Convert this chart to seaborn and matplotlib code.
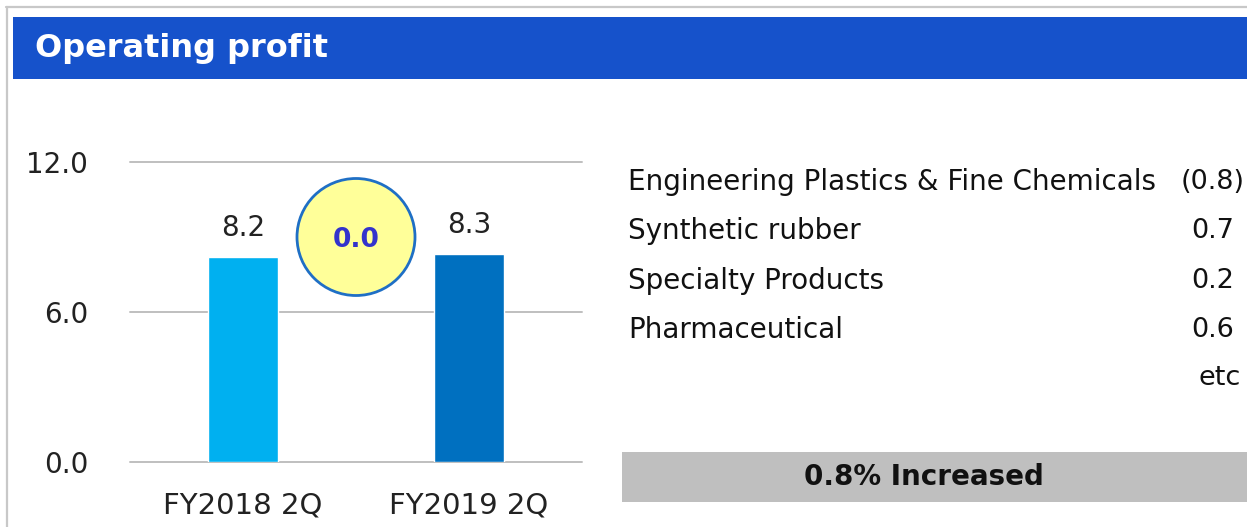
import matplotlib
matplotlib.use("Agg")
import matplotlib.pyplot as plt
from matplotlib.patches import Rectangle, Ellipse
from matplotlib.lines import Line2D
import seaborn as sns

# ---- data ----
title = "Operating profit"
categories = ["FY2018 2Q", "FY2019 2Q"]
values = [8.2, 8.3]
bar_colors = ["#00B0F0", "#0070C0"]
y_ticks = [0.0, 6.0, 12.0]
y_tick_labels = ["0.0", "6.0", "12.0"]
change_label = "0.0"
segments = ["Engineering Plastics & Fine Chemicals", "Synthetic rubber",
            "Specialty Products", "Pharmaceutical"]
segment_changes = ["(0.8)", "0.7", "0.2", "0.6"]
etc_label = "etc"
summary_label = "0.8% Increased"

# ---- figure ----
W, H = 1247, 527
sns.set_theme(style="white")
plt.rcParams['font.family'] = ['DejaVu Sans']
fig = plt.figure(figsize=(W / 100, H / 100), dpi=100)
fig.patch.set_facecolor("white")

def fx(px):
    return px / W

def fy(py):
    return 1 - py / H

# outer frame lines
fig.add_artist(Line2D([fx(6), 1.0], [fy(7), fy(7)], color="#C8C8C8", lw=1.6,
                      transform=fig.transFigure))
fig.add_artist(Line2D([fx(7), fx(7)], [fy(7), 0.0], color="#C8C8C8", lw=1.6,
                      transform=fig.transFigure))

# title bar
fig.add_artist(Rectangle((fx(13), fy(79)), 1 - fx(13), fy(17) - fy(79),
                         facecolor="#1652CB", edgecolor="none",
                         transform=fig.transFigure))
fig.text(fx(35), fy(48), title, color="white", fontsize=23, fontweight="bold",
         ha="left", va="center")

# bar chart
ax = fig.add_axes([fx(130), fy(462), fx(582) - fx(130), fy(162) - fy(462)])
sns.barplot(x=categories, y=values, hue=categories, palette=bar_colors,
            width=0.314, ax=ax, legend=False, saturation=1)
ax.set_xlim(-0.5, 1.5)
ax.set_ylim(0, 12)
ax.set_yticks(y_ticks)
ax.set_yticklabels(y_tick_labels)
for y in y_ticks:
    ax.axhline(y, color="#BFBFBF", lw=1.4, zorder=0, clip_on=False)
for s in ax.spines.values():
    s.set_visible(False)
ax.tick_params(axis="y", length=0, pad=30, labelsize=20, labelcolor="#222222")
ax.tick_params(axis="x", length=0, pad=21, labelsize=21, labelcolor="#222222")
ax.set_xlabel("")
ax.set_ylabel("")
ax.set_facecolor("none")
for cont in ax.containers:
    ax.bar_label(cont, fmt="%.1f", padding=11, fontsize=20, color="#222222")

# change bubble
fig.add_artist(Ellipse((fx(356), fy(237)), fx(118), 117 / H,
                       facecolor="#FFFF99", edgecolor="#1F6FC5", lw=2,
                       transform=fig.transFigure))
fig.text(fx(356), fy(240), change_label, color="#3333CC", fontsize=19,
         fontweight="bold", ha="center", va="center")

# right side breakdown
row_y = [182, 231, 281, 330]
for lab, val, yy in zip(segments, segment_changes, row_y):
    fig.text(fx(628), fy(yy), lab, fontsize=20, color="#111111",
             ha="left", va="center")
    fig.text(fx(1213), fy(yy), val, fontsize=19.5, color="#111111",
             ha="center", va="center")
fig.text(fx(1198), fy(378), etc_label, fontsize=19.5, color="#111111",
         ha="left", va="center")

# summary box
fig.add_artist(Rectangle((fx(622), fy(502)), 1 - fx(622), fy(452) - fy(502),
                         facecolor="#BFBFBF", edgecolor="none",
                         transform=fig.transFigure))
fig.text(fx(924), fy(477), summary_label, fontsize=20, fontweight="bold",
         color="#111111", ha="center", va="center")

fig.savefig("out.png", dpi=100, facecolor="white")
